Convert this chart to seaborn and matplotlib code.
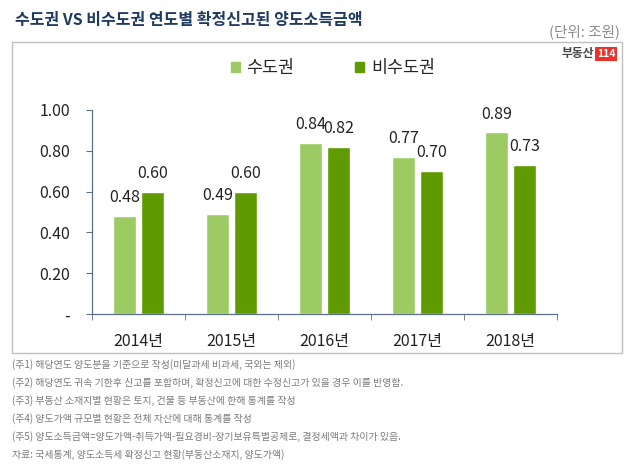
import matplotlib
matplotlib.use("Agg")
import matplotlib.pyplot as plt
import matplotlib.patches as mpatches
import seaborn as sns
import pandas as pd

years = ["2014년", "2015년", "2016년", "2017년", "2018년"]
capital = [0.48, 0.49, 0.84, 0.77, 0.89]
non_capital = [0.60, 0.60, 0.82, 0.70, 0.73]
series_names = ["수도권", "비수도권"]
ytick_vals = [0, 0.2, 0.4, 0.6, 0.8, 1.0]
ytick_labels = ["-", "0.20", "0.40", "0.60", "0.80", "1.00"]
title = "수도권 VS 비수도권 연도별 확정신고된 양도소득금액"
unit = "(단위: 조원)"
notes = [
    "(주1) 해당연도 양도분을 기준으로 작성(미달과세 비과세, 국외는 제외)",
    "(주2) 해당연도 귀속 기한후 신고를 포함하며, 확정신고에 대한 수정신고가 있을 경우 이를 반영함.",
    "(주3) 부동산 소재지별 현황은 토지, 건물 등 부동산에 한해 통계를 작성",
    "(주4) 양도가액 규모별 현황은 전체 자산에 대해 통계를 작성",
    "(주5) 양도소득금액=양도가액-취득가액-필요경비-장기보유특별공제로, 결정세액과 차이가 있음.",
    "자료: 국세통계, 양도소득세 확정신고 현황(부동산소재지, 양도가액)",
]

sns.set_style("white")
plt.rcParams['font.family'] = ['Noto Sans CJK KR', 'DejaVu Sans']

df = pd.DataFrame({
    "year": years * 2,
    "value": capital + non_capital,
    "series": [series_names[0]] * len(years) + [series_names[1]] * len(years),
})

colors = ["#9BCB62", "#5E9A00"]

fig = plt.figure(figsize=(6.3, 4.7), dpi=100)
W, H = 630, 470

# outer frame
frame = mpatches.Rectangle((12 / W, 1 - 353 / H), 610 / W, 311 / H,
                           transform=fig.transFigure, fill=False,
                           edgecolor="#BFBFBF", linewidth=1.0)
fig.patches.append(frame)

ax = fig.add_axes([92 / W, 1 - 314 / H, 465 / W, 204 / H])
sns.barplot(data=df, x="year", y="value", hue="series", palette=colors,
            width=0.6, gap=0.15, ax=ax, legend=False, saturation=1)

ax.set_ylim(0, 1.0)
ax.set_xlim(-0.5, len(years) - 0.5)
ax.set_yticks(ytick_vals)
ax.set_yticklabels(ytick_labels)
ax.set_xlabel("")
ax.set_ylabel("")
for s in ["top", "right"]:
    ax.spines[s].set_visible(False)
for s in ["left", "bottom"]:
    ax.spines[s].set_color("#5B6F86")
    ax.spines[s].set_linewidth(0.9)
ax.tick_params(axis="y", which="both", left=True, length=4, color="#5B6F86",
               labelsize=11.5, pad=12, labelcolor="#222222")
ax.set_xticks([i - 0.5 for i in range(len(years) + 1)], minor=True)
ax.tick_params(axis="x", which="minor", bottom=True, length=4, color="#5B6F86")
ax.tick_params(axis="x", which="major", bottom=False, labelsize=11.5, pad=10,
               labelcolor="#222222")

for cont in ax.containers:
    ax.bar_label(cont, fmt="%.2f", padding=7, fontsize=11.5, color="#222222")

# legend
handles = [mpatches.Patch(color=c, label=n) for c, n in zip(colors, series_names)]
fig.legend(handles=handles, loc="center", bbox_to_anchor=(333 / W, 1 - 68 / H),
           ncol=2, frameon=False, fontsize=12.5, handlelength=0.5, handleheight=0.5,
           columnspacing=3.5, handletextpad=0.4)

# title and unit
fig.text(15 / W, 1 - 20 / H, title, fontsize=11.5, fontweight="bold",
         color="#1F3A5F", va="center", ha="left")
fig.text(620 / W, 1 - 32 / H, unit, fontsize=10.5, color="#8C8C8C",
         va="center", ha="right")

# logo
fig.text(594 / W, 1 - 54 / H, "부동산", fontsize=8.5, fontweight="bold",
         color="#444444", va="center", ha="right")
fig.text(606 / W, 1 - 54 / H, "114", fontsize=7.5, fontweight="bold",
         color="white", va="center", ha="center",
         bbox=dict(boxstyle="square,pad=0.2", facecolor="#E8322A", edgecolor="none"))

# footnotes
for i, line in enumerate(notes):
    fig.text(12 / W, 1 - (365 + i * 18) / H, line, fontsize=7.1, color="#7A7A7A",
             va="center", ha="left")

fig.savefig("out.png", dpi=100)
